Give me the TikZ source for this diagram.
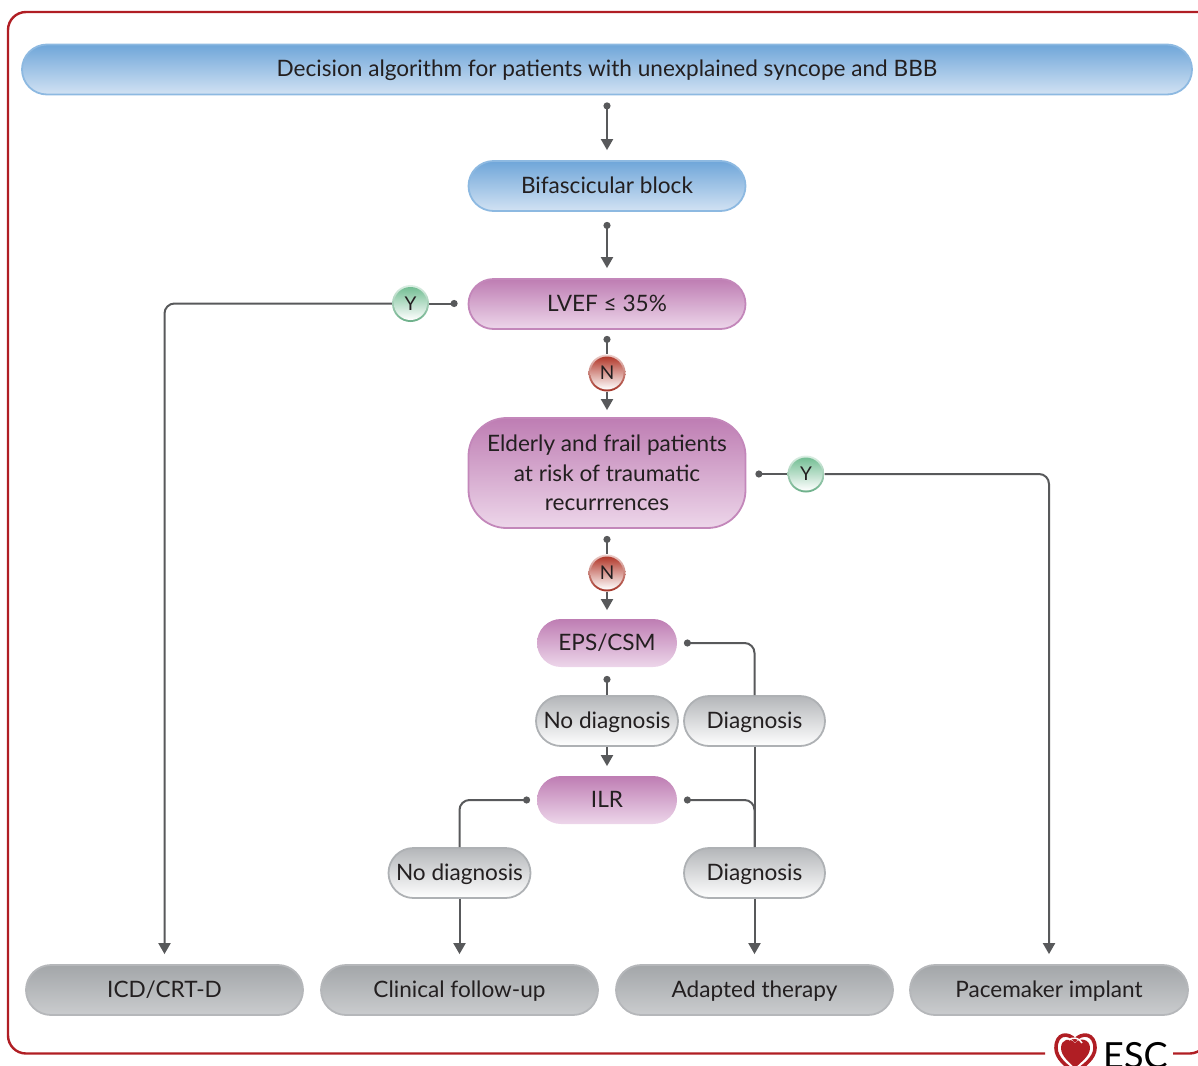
\documentclass[tikz,border=0pt]{standalone}
\usepackage{fontspec}
\setmainfont{Lato}
\usetikzlibrary{arrows.meta,calc}
\definecolor{ink}{HTML}{231F20}
\definecolor{wire}{HTML}{58595B}
\definecolor{escred}{HTML}{B01E24}
\definecolor{blue1}{HTML}{8DB9E1}\definecolor{blue2}{HTML}{6FA6D9}\definecolor{blue3}{HTML}{D2E2F3}
\definecolor{pink1}{HTML}{C387BA}\definecolor{pink2}{HTML}{BE7DB3}\definecolor{pink3}{HTML}{EDD6EA}
\definecolor{silv1}{HTML}{AEB1B4}\definecolor{silv2}{HTML}{B4B6B9}
\definecolor{steel1}{HTML}{B5B7BA}\definecolor{steel2}{HTML}{A3A6A9}\definecolor{steel3}{HTML}{CACCCE}
\definecolor{ygreen}{HTML}{74BE94}\definecolor{nred}{HTML}{B2382A}
\tikzset{
  x=1pt,y=-1pt,
  basebox/.style={draw,line width=1.8pt,align=center,text=ink,inner sep=0pt,
    font=\fontsize{22.6}{29.5}\selectfont,rounded corners=#1},
  basebox/.default=25pt,
  oneline/.style={text height=20pt,text depth=6pt},
  bluebox/.style={basebox,oneline,draw=blue1,top color=blue2,bottom color=blue3},
  pinkbox/.style={basebox=#1,draw=pink1,top color=pink2,bottom color=pink3},
  pinkbox/.default=25pt,
  silverbox/.style={basebox,oneline,draw=silv1,top color=silv2,bottom color=white},
  steelbox/.style={basebox,oneline,draw=steel1,top color=steel2,bottom color=steel3},
  badge/.style={circle,minimum size=37pt,inner sep=0pt,text=ink,font=\fontsize{19}{22}\selectfont},
  conn/.style={draw=wire,line width=2pt,rounded corners=10pt},
  dotarrow/.style={conn,{Circle[length=7pt,width=7pt]}-{Triangle[length=11pt,width=12pt]},shorten <=#1},
  dotline/.style={conn,{Circle[length=7pt,width=7pt]}-,shorten <=#1},
  arrowonly/.style={conn,-{Triangle[length=11pt,width=12pt]}},
}
\newcommand{\badgeat}[3]{%
  \shade[top color=#3!25!white,bottom color=#3!92!black] (#1,#2) circle[radius=18.5pt];
  \shade[top color=#3,bottom color=white] (#1,#2) circle[radius=16.5pt];}
\begin{document}
\begin{tikzpicture}
\useasboundingbox (0,0) rectangle (1198,1065);
% frame
\draw[escred,line width=2.4pt,rounded corners=18pt] (1210,12) -- (8,12) -- (8,1053.5) -- (1045,1053.5);
\draw[escred,line width=2.4pt,rounded corners=8pt] (1173,1053.5) -- (1198,1053.5) -- (1206,1045);
% boxes
\node[bluebox,minimum width=1170pt,minimum height=50pt] (title) at (607,69.5) {Decision algorithm for patients with unexplained syncope and BBB};
\node[bluebox,minimum width=277pt,minimum height=50pt] (bif) at (607,186) {Bifascicular block};
\node[pinkbox,oneline,minimum width=277pt,minimum height=50pt] (lvef) at (607,304) {LVEF ≤ 35\%};
\node[pinkbox=38pt,minimum width=277pt,minimum height=110pt] (frail) at (607,473) {Elderly and frail patients\\at risk of traumatic\\recurrrences};
\node[pinkbox=24pt,oneline,minimum width=140pt,minimum height=48pt,draw=none] (eps) at (607,643) {EPS/CSM};
\node[silverbox,minimum width=142pt,minimum height=50pt] (nd1) at (607,721) {No diagnosis};
\node[silverbox,minimum width=141pt,minimum height=50pt] (d1) at (754.5,721) {Diagnosis};
\node[pinkbox=24pt,oneline,minimum width=140pt,minimum height=48pt,draw=none] (ilr) at (607,800) {ILR};
\node[silverbox,minimum width=142pt,minimum height=50pt] (nd2) at (459.5,873) {No diagnosis};
\node[silverbox,minimum width=141pt,minimum height=50pt] (d2) at (754.5,873) {Diagnosis};
\node[steelbox,minimum width=277pt,minimum height=50pt] (icd) at (164.5,990) {ICD/CRT-D};
\node[steelbox,minimum width=277pt,minimum height=50pt] (fu) at (459.5,990) {Clinical follow-up};
\node[steelbox,minimum width=277pt,minimum height=50pt] (ther) at (754.5,990) {Adapted therapy};
\node[steelbox,minimum width=278pt,minimum height=50pt] (pm) at (1049,990) {Pacemaker implant};
% badges
\badgeat{410.5}{303.5}{ygreen}\node[badge] (y1) at (410.5,303.5) {Y};
\badgeat{607}{373}{nred}\node[badge] (n1) at (607,373) {N};
\badgeat{806}{474}{ygreen}\node[badge] (y2) at (806,474) {Y};
\badgeat{607}{573}{nred}\node[badge] (n2) at (607,573) {N};
% connectors
\draw[dotarrow=7pt,shorten >=10pt] (title) -- (bif);
\draw[dotarrow=10pt,shorten >=10pt] (bif) -- (lvef);
\draw[dotline=6pt] (lvef) -- (n1);
\draw[arrowonly,shorten >=7pt] (n1) -- (frail);
\draw[dotline=7pt] (frail) -- (n2);
\draw[arrowonly,shorten >=8pt] (n2) -- (eps);
\draw[dotline=8pt] (eps) -- (nd1);
\draw[arrowonly,shorten >=9pt] (nd1) -- (ilr);
\draw[dotline=10pt] (lvef.west |- y1) -- (y1.east);
\draw[arrowonly,shorten >=10pt] (y1.west) -- (icd.north |- y1) -- (icd.north);
\draw[dotline=9pt] (frail.east |- y2) -- (y2.west);
\draw[arrowonly,shorten >=10pt] (y2.east) -- (pm.north |- y2) -- (pm.north);
\draw[dotline=6pt] (eps.east) -- (eps.east -| d1.north) -- (d1.north);
\draw[conn] (d1) -- (d2);
\draw[dotline=6pt] (ilr.east) -- (ilr.east -| d2.north) -- (d2.north);
\draw[dotline=6pt] (ilr.west) -- (ilr.west -| nd2.north) -- (nd2.north);
\draw[arrowonly,shorten >=10pt] (nd2) -- (fu);
\draw[arrowonly,shorten >=10pt] (d2) -- (ther);
% logo
\begin{scope}
\clip (1040,1025) rectangle (1198,1065);
\draw[escred,line width=3.6pt] (1075,1040)
  .. controls (1068,1032) and (1056,1033) .. (1056,1048)
  .. controls (1056,1058) and (1066,1066) .. (1075,1072)
  .. controls (1084,1066) and (1095,1058) .. (1095,1048)
  .. controls (1095,1033) and (1082,1032) .. (1075,1040) -- cycle;
\fill[escred] (1075,1043)
  .. controls (1070,1037) and (1061,1039) .. (1061,1048)
  .. controls (1061,1056) and (1069,1062) .. (1075,1068)
  .. controls (1081,1062) and (1090,1056) .. (1090,1048)
  .. controls (1090,1039) and (1080,1037) .. (1075,1043) -- cycle;
\draw[white,line width=1.5pt] (1069,1040) .. controls (1072,1037) and (1079,1037) .. (1082,1043);
\node[anchor=base west,text=black,inner sep=0pt,font=\fontsize{36}{36}\selectfont] (esc) at (1103,1068) {ESC};
\end{scope}
\end{tikzpicture}
\end{document}
